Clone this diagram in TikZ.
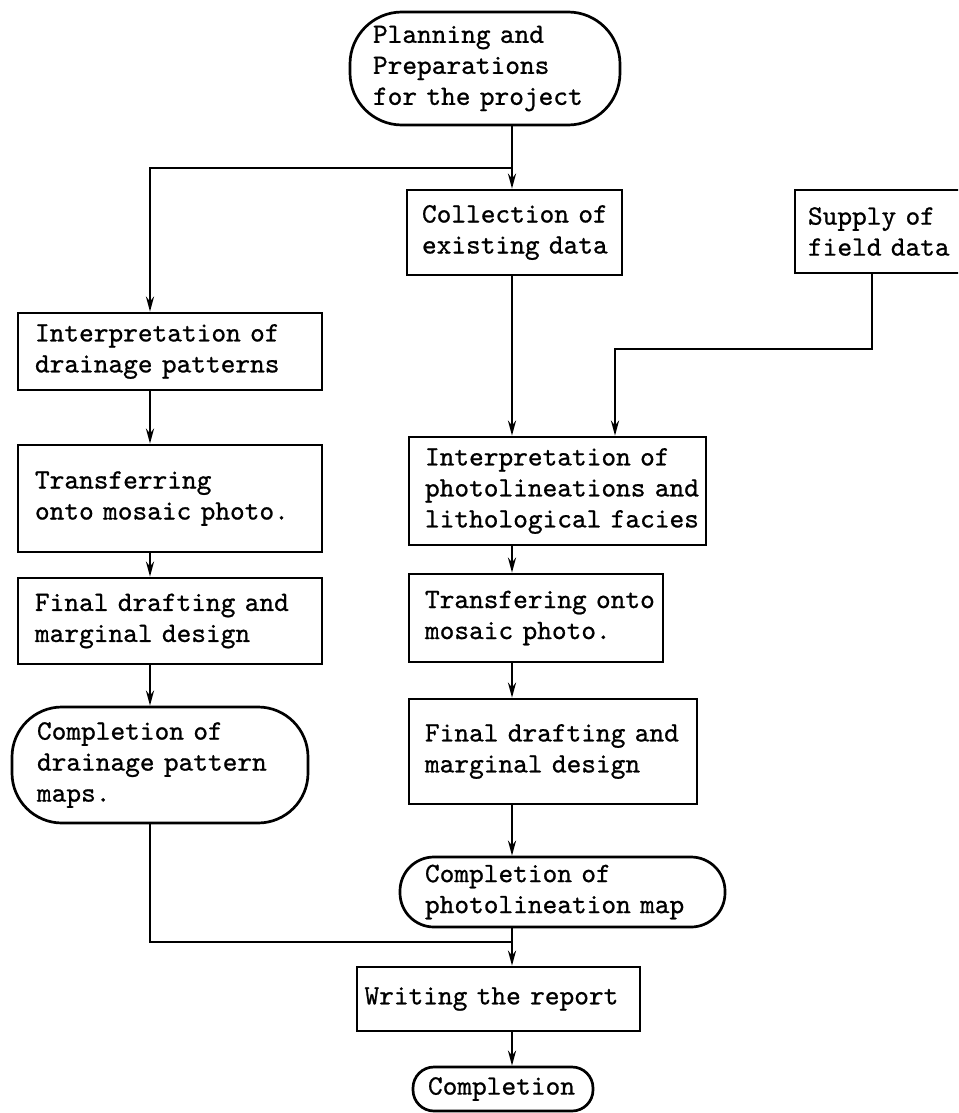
\documentclass[tikz,border=0pt]{standalone}
\usepackage{fontspec}
\setmonofont{lmmono10-regular.otf}[FakeBold=0.8]
\usetikzlibrary{arrows.meta}

\begin{document}
\begin{tikzpicture}[x=1pt, y=-1pt,
    every node/.style={font=\fontsize{28}{31}\selectfont\ttfamily, align=left, inner sep=0pt},
    stepbox/.style={draw, rectangle, line width=2.7pt},
    endbox/.style={draw, rectangle, line width=2.7pt, rounded corners=#1},
    arr/.style={-{Stealth[length=15pt,width=8pt]}, line width=2.7pt},
    link/.style={line width=2.7pt}]
    \useasboundingbox (0,0) rectangle (958,1113);
    \clip (0,0) rectangle (958,1113);

    \node[endbox=52pt, text width=224pt, minimum width=270pt, minimum height=113pt] (start) at (485,68.5) {Planning and\\Preparations\\for the project};
    \node[stepbox, text width=185pt, minimum width=215pt, minimum height=85pt] (coll) at (514.5,232.5) {\mbox{Collection of}\\\mbox{existing data}};
    \node[stepbox, text width=154pt, minimum width=180pt, minimum height=83pt] (supply) at (885,231.5) {Supply of\\field data};

    % left column
    \node[stepbox, text width=270pt, minimum width=304pt, minimum height=77pt] (dint) at (170,351.5) {Interpretation of\\drainage patterns};
    \node[stepbox, text width=270pt, minimum width=304pt, minimum height=107pt] (dtra) at (170,498.5) {Transferring\\onto mosaic photo.};
    \node[stepbox, text width=270pt, minimum width=304pt, minimum height=86pt] (dfin) at (170,621) {Final drafting and\\marginal design};
    \node[endbox=50pt, text width=246pt, minimum width=296pt, minimum height=116pt] (dcom) at (160,765) {Completion of\\drainage pattern\\maps.};

    % middle column
    \node[stepbox, text width=265pt, minimum width=297pt, minimum height=108pt] (mint) at (557.5,491) {Interpretation of\\\mbox{photolineations and}\\\mbox{lithological facies}};
    \node[stepbox, text width=222pt, minimum width=254pt, minimum height=88pt] (mtra) at (536,618) {\mbox{Transfering onto}\\mosaic photo.};
    \node[stepbox, text width=256pt, minimum width=288pt, minimum height=105pt] (mfin) at (553,751.5) {\mbox{Final drafting and}\\marginal design};
    \node[endbox=34pt, text width=275pt, minimum width=325pt, minimum height=70pt] (mcom) at (562.5,892) {Completion of\\photolineation map};

    \node[stepbox, text width=268pt, minimum width=283pt, minimum height=64pt] (write) at (498.5,999) {Writing the report};
    \node[endbox=21pt, text width=150pt, minimum width=180pt, minimum height=44pt] (done) at (503,1089) {Completion};

    \coordinate (lcol) at (150,0);
    \coordinate (mcol) at (512,0);
    \coordinate (scol) at (872,0);
    \coordinate (split) at (512,168);
    \coordinate (sjoin) at (615,349);
    \coordinate (bjoin) at (512,942);

    \draw[arr] (start.south -| mcol) -- (coll.north -| mcol);
    \draw[arr] (split) -| (dint.north -| lcol);
    \draw[arr] (coll.south -| mcol) -- (mint.north -| mcol);
    \draw[arr] (supply.south -| scol) |- (sjoin) -- (mint.north -| sjoin);

    \draw[arr] (dint.south -| lcol) -- (dtra.north -| lcol);
    \draw[arr] (dtra.south -| lcol) -- (dfin.north -| lcol);
    \draw[arr] (dfin.south -| lcol) -- (dcom.north -| lcol);
    \draw[link] (dcom.south -| lcol) |- (bjoin);

    \draw[arr] (mint.south -| mcol) -- (mtra.north -| mcol);
    \draw[arr] (mtra.south -| mcol) -- (mfin.north -| mcol);
    \draw[arr] (mfin.south -| mcol) -- (mcom.north -| mcol);
    \draw[arr] (mcom.south -| mcol) -- (write.north -| mcol);
    \draw[arr] (write.south -| mcol) -- (done.north -| mcol);
\end{tikzpicture}
\end{document}
